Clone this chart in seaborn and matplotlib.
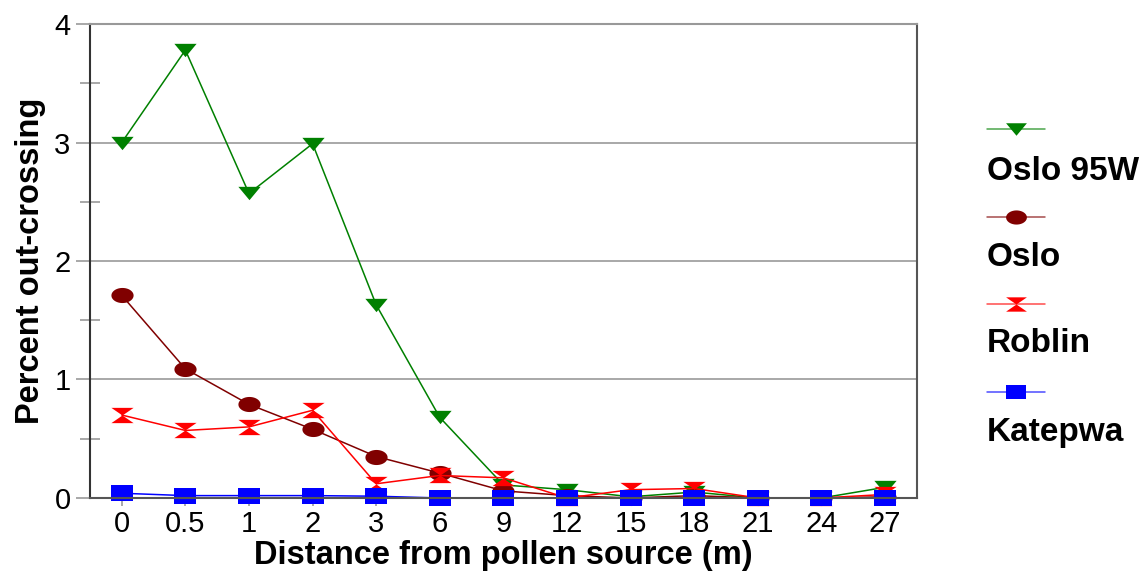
import numpy as np
import pandas as pd
import matplotlib
matplotlib.use("Agg")
import matplotlib.pyplot as plt
from matplotlib.lines import Line2D
from matplotlib.path import Path
from matplotlib.ticker import MultipleLocator
import seaborn as sns

# data
distance = ["0", "0.5", "1", "2", "3", "6", "9", "12", "15", "18", "21", "24", "27"]
oslo_95w = [3.00, 3.78, 2.57, 2.99, 1.63, 0.68, 0.11, 0.07, 0.01, 0.05, 0.0, 0.0, 0.09]
oslo = [1.71, 1.09, 0.79, 0.58, 0.35, 0.21, 0.06, 0.02, 0.0, 0.02, 0.0, 0.0, 0.01]
roblin = [0.70, 0.57, 0.60, 0.74, 0.12, 0.19, 0.17, 0.0, 0.07, 0.08, 0.0, 0.0, 0.03]
katepwa = [0.04, 0.02, 0.02, 0.02, 0.015, 0.0, 0.0, 0.0, 0.0, 0.0, 0.0, 0.0, 0.0]

series_names = ["Oslo 95W", "Oslo", "Roblin", "Katepwa"]
series_vals = [oslo_95w, oslo, roblin, katepwa]
colors = ["#008000", "#800000", "#ff0000", "#0000ff"]

# marker shapes (wider than tall, like the original)
tri = Path([(-1, 0.6), (1, 0.6), (0, -0.6), (-1, 0.6)], closed=True)
theta = np.linspace(0, 2 * np.pi, 40)
ell = Path(np.column_stack([np.cos(theta), 0.68 * np.sin(theta)]), closed=True)
hourglass = Path([(-0.8, 0.55), (0.8, 0.55), (0, 0), (0.8, -0.55), (-0.8, -0.55), (0, 0), (-0.8, 0.55)],
                 closed=True)
rect = Path([(-1, -0.7), (1, -0.7), (1, 0.7), (-1, 0.7), (-1, -0.7)], closed=True)
markers = [tri, ell, hourglass, rect]

df = pd.DataFrame({
    "pos": np.tile(np.arange(len(distance)), len(series_names)),
    "value": np.concatenate(series_vals),
    "variety": np.repeat(series_names, len(distance)),
})

sns.set_style("white")
plt.rcParams["font.family"] = ["Liberation Sans", "DejaVu Sans"]
plt.rcParams["text.color"] = "black"
plt.rcParams["axes.labelcolor"] = "black"
plt.rcParams["xtick.color"] = "black"
plt.rcParams["ytick.color"] = "black"

fig = plt.figure(figsize=(11.46, 5.8), dpi=100)
ax = fig.add_axes([0.0785, 0.1414, 0.7215, 0.8172])

for name, col, mk in zip(series_names, colors, markers):
    sub = df[df["variety"] == name]
    sns.lineplot(data=sub, x="pos", y="value", ax=ax, color=col, marker=mk,
                 markersize=16, markeredgewidth=0, linewidth=1.1, sort=False,
                 clip_on=False)

ax.set_xlim(-0.5, len(distance) - 0.5)
ax.set_ylim(0, 4)
ax.set_xticks(range(len(distance)))
ax.set_xticklabels(distance)
ax.yaxis.set_major_locator(MultipleLocator(1))
ax.yaxis.set_minor_locator(MultipleLocator(0.5))
ax.tick_params(axis="y", which="major", direction="out", length=10, width=1.2,
               color="#999999", labelsize=21, pad=4, left=True, right=False)
ax.tick_params(axis="y", which="minor", direction="inout", length=14, width=1.2,
               color="#999999", left=True, right=False)
ax.tick_params(axis="x", direction="out", length=6, width=1.2, color="#999999",
               labelsize=21, pad=3, bottom=True, top=False)
ax.grid(axis="y", which="major", color="#999999", linewidth=1.2)
ax.set_axisbelow(True)

ax.spines["left"].set_color("#333333")
ax.spines["bottom"].set_color("#555555")
ax.spines["right"].set_color("#555555")
ax.spines["top"].set_color("#999999")
for s in ax.spines.values():
    s.set_linewidth(1.5)

ax.set_xlabel("Distance from pollen source (m)", fontsize=23.5, fontweight="bold", labelpad=1)
ax.set_ylabel("Percent out-crossing", fontsize=23.5, fontweight="bold", labelpad=6)

# legend: handle line above each label
line_y = [129, 217, 304, 392]
text_y = [172, 258, 343, 432]
W, H = 1146, 580
for name, col, mk, ly, ty in zip(series_names, colors, markers, line_y, text_y):
    fig.add_artist(Line2D([987 / W, 1045 / W], [1 - ly / H, 1 - ly / H], color=col,
                          alpha=0.7, linewidth=1.1))
    fig.add_artist(Line2D([1016 / W], [1 - ly / H], color=col, marker=mk,
                          markersize=15, markeredgewidth=0, linestyle="none"))
    fig.text(987 / W, 1 - ty / H, name, fontsize=24, fontweight="bold", va="center", ha="left")

fig.savefig("out.png", dpi=100)
